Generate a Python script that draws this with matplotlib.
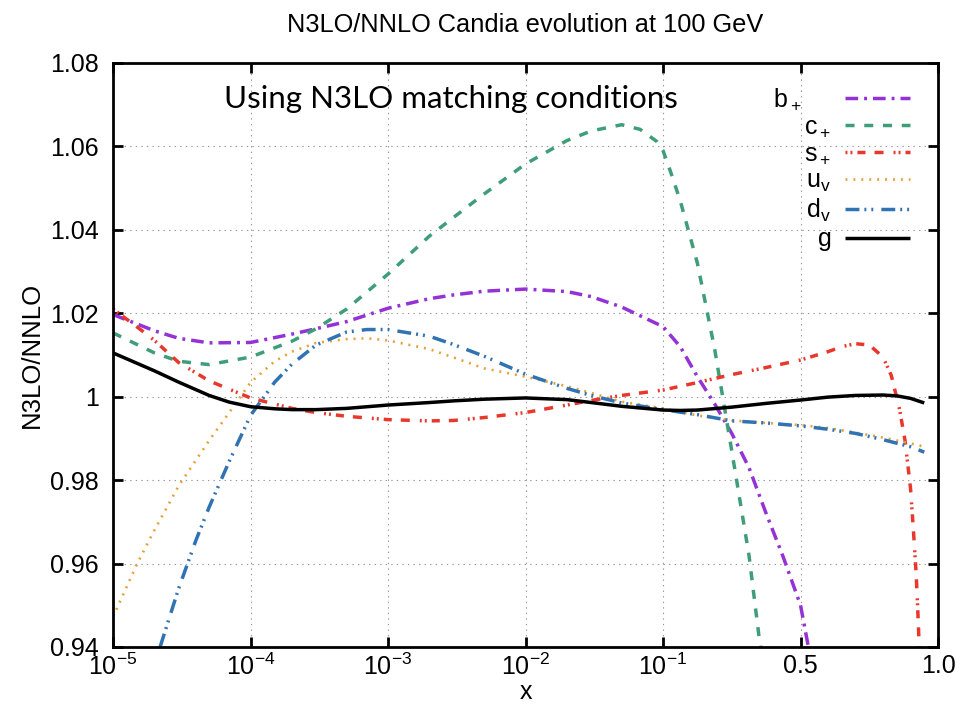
import matplotlib

matplotlib.use("Agg")
import matplotlib.pyplot as plt
import numpy as np
from matplotlib.ticker import FixedLocator, NullLocator

plt.rcParams["font.family"] = ["Liberation Sans", "DejaVu Sans"]
plt.rcParams["mathtext.fontset"] = "custom"
plt.rcParams["mathtext.rm"] = "Liberation Sans"
plt.rcParams["mathtext.it"] = "Liberation Sans:italic"
plt.rcParams["mathtext.default"] = "regular"
plt.rcParams["lines.scale_dashes"] = False

# N3LO/NNLO ratios per flavour
x_b = [1e-5, 2e-5, 3e-5, 5e-5, 1e-4, 2e-4, 3e-4, 5e-4, 1e-3, 2e-3, 3e-3, 5e-3,
       1e-2, 2e-2, 3e-2, 5e-2, 0.1, 0.15, 0.2, 0.25, 0.3, 0.35, 0.4, 0.45, 0.5, 0.53]
r_b = [1.0197, 1.0158, 1.0140, 1.0129, 1.0130, 1.0150, 1.0163, 1.0180, 1.0212, 1.0235,
       1.0244, 1.0253, 1.0258, 1.0252, 1.0240, 1.0215, 1.0168, 1.0120, 1.0048, 0.9983,
       0.9912, 0.9830, 0.9720, 0.9615, 0.9500, 0.9395]

x_c = [1e-5, 2e-5, 3e-5, 5e-5, 1e-4, 2e-4, 3e-4, 5e-4, 1e-3, 2e-3, 3e-3, 5e-3,
       1e-2, 2e-2, 3e-2, 5e-2, 0.068, 0.09, 0.1, 0.12, 0.15, 0.2, 0.25, 0.3, 0.35,
       0.38, 0.385]
r_c = [1.0153, 1.0105, 1.0085, 1.0077, 1.0095, 1.0133, 1.0163, 1.0210, 1.0294, 1.0385,
       1.0430, 1.0486, 1.0558, 1.0614, 1.0637, 1.0652, 1.0641, 1.0612, 1.0590, 1.0544,
       1.0470, 1.0320, 1.0115, 0.9870, 0.9620, 0.9420, 0.9395]

x_s = [1e-5, 1.5e-5, 2e-5, 3e-5, 5e-5, 1e-4, 2e-4, 3e-4, 5e-4, 1e-3, 2e-3, 3e-3,
       5e-3, 1e-2, 2e-2, 3e-2, 5e-2, 0.1, 0.2, 0.3, 0.4, 0.5, 0.6, 0.65, 0.7, 0.75,
       0.8, 0.83, 0.86, 0.88, 0.9, 0.91, 0.92, 0.925, 0.932]
r_s = [1.0210, 1.0167, 1.0135, 1.0082, 1.0038, 0.9997, 0.9972, 0.9962, 0.9953, 0.9945,
       0.9942, 0.9943, 0.9950, 0.9962, 0.9980, 0.9991, 1.0003, 1.0016, 1.0034, 1.0053,
       1.0070, 1.0088, 1.0108, 1.0120, 1.0127, 1.0124, 1.0095, 1.0051, 0.9970, 0.9895,
       0.9780, 0.9685, 0.9580, 0.9510, 0.9395]

x_u = [1e-5, 1.5e-5, 2e-5, 3e-5, 5e-5, 7e-5, 1e-4, 1.5e-4, 2e-4, 3e-4, 5e-4, 7e-4,
       1e-3, 2e-3, 3e-3, 5e-3, 1e-2, 2e-2, 3e-2, 5e-2, 0.1, 0.2, 0.3, 0.4, 0.5, 0.6,
       0.7, 0.8, 0.9, 0.95]
r_u = [0.9472, 0.9600, 0.9680, 0.9786, 0.9895, 0.9962, 1.0034, 1.0085, 1.0108, 1.0129,
       1.0138, 1.0140, 1.0135, 1.0114, 1.0094, 1.0068, 1.0048, 1.0025, 1.0009, 0.9988,
       0.9972, 0.9955, 0.9943, 0.9937, 0.9932, 0.9925, 0.9914, 0.9902, 0.9888, 0.9880]

x_d = [2.2e-5, 3e-5, 4e-5, 5e-5, 7e-5, 1e-4, 1.5e-4, 2e-4, 3e-4, 5e-4, 7e-4, 1e-3,
       2e-3, 3e-3, 5e-3, 1e-2, 2e-2, 3e-2, 5e-2, 0.1, 0.2, 0.3, 0.4, 0.5, 0.6, 0.7,
       0.8, 0.9, 0.95]
r_d = [0.9400, 0.9540, 0.9655, 0.9735, 0.9845, 0.9955, 1.0035, 1.0078, 1.0124, 1.0155,
       1.0161, 1.0161, 1.0145, 1.0125, 1.0097, 1.0054, 1.0020, 1.0003, 0.9985, 0.9969,
       0.9957, 0.9942, 0.9937, 0.9930, 0.9922, 0.9912, 0.9897, 0.9880, 0.9867]

x_g = [1e-5, 2e-5, 3e-5, 5e-5, 7e-5, 1e-4, 1.5e-4, 2e-4, 3e-4, 5e-4, 1e-3, 2e-3,
       3e-3, 5e-3, 1e-2, 2e-2, 3e-2, 5e-2, 0.1, 0.15, 0.2, 0.3, 0.4, 0.5, 0.6, 0.7,
       0.8, 0.85, 0.9, 0.95]
r_g = [1.0105, 1.0062, 1.0035, 1.0003, 0.9987, 0.9976, 0.9971, 0.9969, 0.9969, 0.9972,
       0.9980, 0.9986, 0.9990, 0.9994, 0.9997, 0.9993, 0.9986, 0.9977, 0.9968, 0.9967,
       0.9968, 0.9975, 0.9984, 0.9992, 0.9999, 1.0003, 1.0004, 1.0002, 0.9996, 0.9985]

x_ticks = [1e-5, 1e-4, 1e-3, 1e-2, 1e-1, 0.5, 1.0]
x_tick_labels = ["10$^{-5}$", "10$^{-4}$", "10$^{-3}$", "10$^{-2}$", "10$^{-1}$", "0.5", "1.0"]
y_ticks = [0.94, 0.96, 0.98, 1.00, 1.02, 1.04, 1.06, 1.08]
y_tick_labels = ["0.94", "0.96", "0.98", "1", "1.02", "1.04", "1.06", "1.08"]


def x_forward(x):
    # log below 0.1, then two linear pieces 0.1-0.5 and 0.5-1 of one decade each
    x = np.asarray(x, dtype=float)
    logx = np.log10(np.clip(x, 1e-12, None))
    return np.where(x <= 0.1, logx,
                    np.where(x <= 0.5, -1.0 + (x - 0.1) / 0.4, (x - 0.5) / 0.5))


def x_inverse(t):
    t = np.asarray(t, dtype=float)
    return np.where(t <= -1.0, np.power(10.0, np.minimum(t, -1.0)),
                    np.where(t <= 0.0, 0.1 + 0.4 * (t + 1.0), 0.5 + 0.5 * t))


fig = plt.figure(figsize=(9.61, 7.07), dpi=100)
ax = fig.add_axes([0.1176, 0.0849, 0.8585, 0.826])
ax.set_xscale("function", functions=(x_forward, x_inverse))

# the b+ key label sits further left than the others, hence the trailing spaces;
# the empty subscript on g keeps its key row as tall as the others
curves = [
    (x_b, r_b, "b$_+$\u2003\u2002", "#9432d6", 2.5, (0, (9.1, 4.3, 2.1, 4.3))),
    (x_c, r_c, "c$_+$", "#3f9e78", 2.5, (0, (6.5, 7.0))),
    (x_s, r_s, "s$_+$", "#e8372b", 2.5, (0, (1.4, 2.2, 1.4, 3.6, 5.8, 6.5, 6.5, 7.2))),
    (x_u, r_u, "u$_v$", "#e6a035", 1.9, (0, (1.4, 4.3))),
    (x_d, r_d, "d$_v$", "#3072b2", 2.5, (0, (10.0, 3.6, 1.4, 3.6, 1.4, 5.8))),
    (x_g, r_g, "g$_{\\,}$", "black", 2.5, "-"),
]
for xs, ys, label, color, lw, ls in curves:
    ax.plot(xs, ys, color=color, lw=lw, linestyle=ls, label=label,
            dash_capstyle="butt", solid_capstyle="butt")

ax.set_xlim(1e-5, 1.0)
ax.set_ylim(0.94, 1.08)
ax.xaxis.set_major_locator(FixedLocator(x_ticks))
ax.xaxis.set_minor_locator(NullLocator())
ax.set_xticklabels(x_tick_labels)
ax.set_yticks(y_ticks)
ax.set_yticklabels(y_tick_labels)
ax.yaxis.set_minor_locator(NullLocator())

ax.set_axisbelow(True)
ax.grid(True, color="#9a9a9a", linestyle=(0, (1, 3)), linewidth=0.8)
for spine in ax.spines.values():
    spine.set_linewidth(2.0)
ax.tick_params(direction="in", length=7, width=2.0, top=True, right=True, labelsize=18)
ax.tick_params(axis="y", pad=10)
ax.tick_params(axis="x", pad=5)

ax.set_title("N3LO/NNLO Candia evolution at 100 GeV", fontsize=18.3, pad=22)
ax.set_xlabel("x", fontsize=18, labelpad=0)
ax.set_ylabel("N3LO/NNLO", fontsize=18.5, labelpad=5)

ax.text(0.41, 0.923, "Using N3LO matching conditions", transform=ax.transAxes,
        ha="center", va="baseline", fontsize=22.5, family=["Lato", "DejaVu Sans"])

ax.legend(loc="upper right", bbox_to_anchor=(0.966, 0.960), frameon=False,
          markerfirst=False, fontsize=18, handlelength=2.6, handletextpad=0.55,
          labelspacing=0.12, borderpad=0, borderaxespad=0)

fig.savefig("out.png", dpi=100)
plt.close(fig)
